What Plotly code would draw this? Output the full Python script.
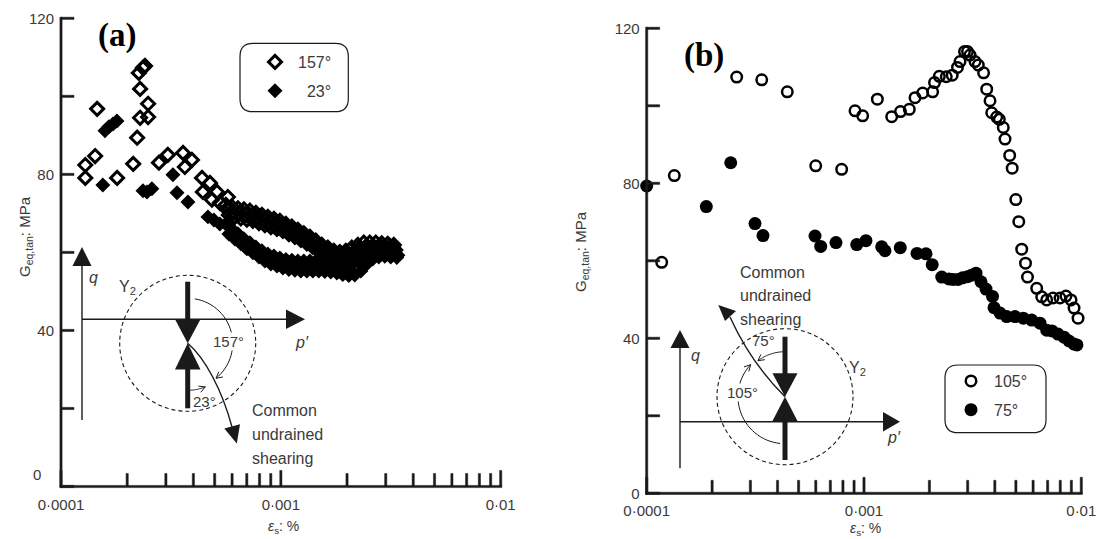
import math
import plotly.graph_objects as go

W, H = 1100, 539

# ---------------- data ----------------
# Panel (a): 157 deg (open diamonds) and 23 deg (filled diamonds)
a157_x = [1.29e-4, 1.29e-4, 1.43e-4, 1.46e-4, 1.80e-4, 2.13e-4, 2.22e-4, 2.29e-4,
          2.49e-4, 2.49e-4, 2.29e-4, 2.26e-4, 2.36e-4, 2.41e-4, 2.79e-4, 3.06e-4,
          3.59e-4, 3.94e-4, 3.66e-4, 4.38e-4, 4.76e-4, 4.42e-4, 5.12e-4, 4.86e-4,
          5.74e-4, 5.28e-4,
          # dense band, upper row
          5.62e-4, 5.99e-4, 6.38e-4, 6.79e-4, 7.23e-4, 7.70e-4, 8.20e-4, 8.73e-4,
          9.30e-4, 9.90e-4, 1.054e-3, 1.122e-3, 1.195e-3, 1.272e-3, 1.355e-3, 1.442e-3,
          1.536e-3, 1.636e-3, 1.742e-3, 1.854e-3, 1.974e-3, 2.102e-3, 2.239e-3, 2.384e-3,
          2.538e-3, 2.703e-3, 2.878e-3, 3.064e-3, 3.264e-3,
          # dense band, middle row
          5.71e-4, 6.08e-4, 6.48e-4, 6.90e-4, 7.34e-4, 7.82e-4, 8.33e-4, 8.87e-4,
          9.45e-4, 1.006e-3, 1.071e-3, 1.140e-3, 1.214e-3, 1.292e-3, 1.376e-3, 1.465e-3,
          1.560e-3, 1.662e-3, 1.770e-3, 1.883e-3, 2.005e-3, 2.135e-3, 2.274e-3, 2.422e-3,
          2.578e-3, 2.746e-3, 2.923e-3, 3.112e-3, 3.316e-3,
          # dense band, lower row
          5.80e-4, 6.18e-4, 6.58e-4, 7.01e-4, 7.46e-4, 7.95e-4, 8.46e-4, 9.01e-4,
          9.60e-4, 1.022e-3, 1.088e-3, 1.158e-3, 1.233e-3, 1.313e-3, 1.398e-3, 1.488e-3,
          1.585e-3, 1.688e-3, 1.798e-3, 1.913e-3, 2.037e-3, 2.169e-3, 2.310e-3, 2.460e-3,
          2.619e-3, 2.789e-3, 2.970e-3, 3.162e-3, 3.368e-3]
a157_y = [82.4, 79.1, 84.7, 96.8, 79.1, 82.7, 89.4, 94.5,
          94.7, 98.1, 101.9, 106.0, 107.3, 107.8, 83.0, 85.0,
          85.5, 83.7, 81.9, 79.1, 77.8, 75.5, 75.5, 73.5,
          74.2, 72.7,
          72.2, 71.7, 71.3, 71.0, 70.7, 70.1, 69.6, 69.1,
          68.6, 68.1, 67.3, 66.6, 65.8, 64.9, 64.0, 63.0,
          61.9, 61.2, 60.4, 60.1, 60.4, 61.2, 61.9, 62.5,
          62.5, 62.5, 62.3, 62.2, 61.9,
          70.9, 70.4, 70.0, 69.7, 69.4, 68.8, 68.3, 67.8,
          67.3, 66.8, 66.0, 65.3, 64.5, 63.6, 62.7, 61.7,
          60.6, 59.9, 59.1, 58.8, 59.1, 59.9, 60.6, 61.2,
          61.2, 61.2, 61.0, 60.9, 60.6,
          69.6, 69.1, 68.7, 68.4, 68.1, 67.5, 67.0, 66.5,
          66.0, 65.5, 64.7, 64.0, 63.2, 62.3, 61.4, 60.4,
          59.3, 58.6, 57.8, 57.5, 57.8, 58.6, 59.3, 59.9,
          59.9, 59.9, 59.7, 59.6, 59.3]

a23_x = [1.55e-4, 1.585e-4, 1.652e-4, 1.724e-4, 1.797e-4, 2.36e-4, 2.46e-4, 2.59e-4,
         3.23e-4, 3.37e-4, 3.78e-4, 4.66e-4, 4.96e-4, 5.28e-4,
         # dense band, upper row
         5.62e-4, 5.99e-4, 6.38e-4, 6.79e-4, 7.23e-4, 7.70e-4, 8.20e-4, 8.73e-4,
         9.30e-4, 9.90e-4, 1.054e-3, 1.122e-3, 1.195e-3, 1.272e-3, 1.355e-3, 1.442e-3,
         1.536e-3, 1.636e-3, 1.742e-3, 1.854e-3, 1.974e-3, 2.102e-3, 2.239e-3, 2.384e-3,
         2.538e-3, 2.703e-3, 2.878e-3, 3.064e-3, 3.264e-3,
         # dense band, lower row
         5.80e-4, 6.18e-4, 6.58e-4, 7.01e-4, 7.46e-4, 7.95e-4, 8.46e-4, 9.01e-4,
         9.60e-4, 1.022e-3, 1.088e-3, 1.158e-3, 1.233e-3, 1.313e-3, 1.398e-3, 1.488e-3,
         1.585e-3, 1.688e-3, 1.798e-3, 1.913e-3, 2.037e-3, 2.169e-3, 2.310e-3, 2.460e-3,
         2.619e-3, 2.789e-3, 2.970e-3, 3.162e-3, 3.368e-3]
a23_y = [77.3, 91.2, 92.2, 92.9, 93.7, 75.8, 75.5, 76.3,
         79.9, 75.3, 72.9, 69.1, 68.3, 67.3,
         67.3, 66.0, 64.8, 63.5, 62.5, 61.4, 60.4, 59.6,
         59.1, 58.6, 58.2, 58.0, 57.8, 57.8, 57.8, 57.8,
         57.7, 57.6, 57.3, 56.9, 56.7, 56.8, 57.8, 59.6,
         60.9, 61.4, 61.6, 61.4, 61.3,
         64.7, 63.4, 62.2, 60.9, 59.9, 58.8, 57.8, 57.0,
         56.5, 56.0, 55.6, 55.4, 55.2, 55.2, 55.2, 55.2,
         55.1, 55.0, 54.7, 54.3, 54.1, 54.2, 55.2, 57.0,
         58.3, 58.8, 59.0, 58.8, 58.7]

# Panel (b): 105 deg (open circles) and 75 deg (filled circles)
b105_x = [1.172e-4, 1.340e-4, 2.595e-4, 3.383e-4, 4.436e-4, 5.995e-4, 7.891e-4, 9.09e-4,
          9.86e-4, 1.152e-3, 1.341e-3, 1.472e-3, 1.616e-3, 1.717e-3, 1.862e-3, 2.070e-3,
          2.111e-3, 2.221e-3, 2.391e-3, 2.546e-3, 2.692e-3, 2.766e-3, 2.901e-3, 2.995e-3,
          3.076e-3, 3.243e-3, 3.357e-3, 3.551e-3, 3.670e-3, 3.801e-3, 3.870e-3, 4.080e-3,
          4.195e-3, 4.375e-3, 4.456e-3, 4.682e-3, 4.808e-3, 4.995e-3, 5.157e-3, 5.318e-3,
          5.536e-3, 5.655e-3, 6.234e-3, 6.573e-3, 6.931e-3, 7.41e-3, 7.98e-3, 8.50e-3,
          8.97e-3, 9.26e-3, 9.66e-3]
b105_y = [59.6, 82.0, 107.4, 106.7, 103.6, 84.5, 83.6, 98.7,
          97.4, 101.7, 97.2, 98.5, 99.1, 102.1, 103.3, 103.6,
          106.0, 107.6, 107.5, 107.9, 109.9, 111.4, 114.0, 114.0,
          113.1, 111.4, 110.5, 108.5, 104.3, 101.3, 98.2, 97.1,
          96.5, 94.4, 91.4, 87.2, 83.9, 75.8, 70.1, 63.0,
          59.4, 55.8, 52.9, 50.7, 49.9, 50.4, 50.4, 50.9,
          49.9, 47.8, 45.2]

b75_x = [1.0e-4, 1.881e-4, 2.436e-4, 3.151e-4, 3.429e-4, 5.951e-4, 6.32e-4, 7.43e-4,
         9.26e-4, 1.021e-3, 1.206e-3, 1.249e-3, 1.469e-3, 1.754e-3, 1.929e-3, 2.060e-3,
         2.279e-3, 2.461e-3, 2.568e-3, 2.708e-3, 2.841e-3, 2.995e-3, 3.124e-3, 3.277e-3,
         3.455e-3, 3.643e-3, 3.903e-3, 3.966e-3, 4.226e-3, 4.537e-3, 4.953e-3, 5.409e-3,
         5.910e-3, 6.457e-3, 6.931e-3, 7.33e-3, 7.81e-3, 8.33e-3, 8.78e-3, 9.26e-3,
         9.55e-3]
b75_y = [79.3, 74.0, 85.3, 69.6, 66.5, 66.4, 63.7, 64.7,
         64.2, 65.2, 63.6, 62.6, 63.4, 61.9, 61.8, 59.0,
         55.8, 55.3, 55.2, 55.2, 55.6, 55.9, 56.3, 56.8,
         54.6, 52.7, 50.8, 47.9, 46.5, 45.6, 45.6, 45.2,
         44.7, 43.9, 42.1, 41.9, 41.1, 40.3, 39.3, 38.5,
         38.3]

x_major = [1e-4, 1e-3, 1e-2]
x_major_text = ["0·0001", "0·001", "0·01"]
y_major = [0, 40, 80, 120]
y_minor = [20, 60, 100]
x_minor = [k * 10.0 ** e for e in (-4, -3) for k in range(2, 10)]
X_RANGE = [-4, -2]      # log10 range of the x axes
Y_RANGE = [0, 120]

# ---------------- styling helpers ----------------
FONT = "Liberation Sans, Arial, sans-serif"
SERIF = "Liberation Serif, Times New Roman, serif"
TXT = "#3a3a3a"
LN = "#1a1a1a"

# plot-area domains (paper fractions)
XA_DOM = [61 / W, 500.7 / W]
YA_DOM = [1 - 486.5 / H, 1 - 18.3 / H]
XB_DOM = [646.7 / W, 1081.3 / W]
YB_DOM = [1 - 493.3 / H, 1 - 28.3 / H]


def X(px):
    return px / W


def Y(py):
    return 1 - py / H


def pth(points, close=False):
    s = "M " + " L ".join(f"{X(x):.5f},{Y(y):.5f}" for x, y in points)
    return s + (" Z" if close else "")


def arc_pts(cx, cy, r, t0, t1, n=30):
    pts = []
    for i in range(n + 1):
        t = math.radians(t0 + (t1 - t0) * i / n)
        pts.append((cx + r * math.sin(t), cy - r * math.cos(t)))
    return pts


shapes = []
annots = []


def line(p0, p1, w=1.3, color=LN, dash=None):
    shapes.append(dict(type="line", xref="paper", yref="paper",
                       x0=X(p0[0]), y0=Y(p0[1]), x1=X(p1[0]), y1=Y(p1[1]),
                       line=dict(color=color, width=w, dash=dash)))


def poly(points, fill=LN):
    shapes.append(dict(type="path", xref="paper", yref="paper",
                       path=pth(points, True), fillcolor=fill,
                       line=dict(width=0)))


def stroke(path, w=1.2, color=LN):
    shapes.append(dict(type="path", xref="paper", yref="paper", path=path,
                       line=dict(color=color, width=w)))


def cubic(p0, p1, p2, p3):
    return (f"M {X(p0[0]):.5f},{Y(p0[1]):.5f} C {X(p1[0]):.5f},{Y(p1[1]):.5f} "
            f"{X(p2[0]):.5f},{Y(p2[1]):.5f} {X(p3[0]):.5f},{Y(p3[1]):.5f}")


def vhead(tip, d, L=7, ang=28):
    bx0, by0 = -d[0], -d[1]
    pts = []
    for s in (1, -1):
        a = math.radians(ang * s)
        bx = bx0 * math.cos(a) - by0 * math.sin(a)
        by = bx0 * math.sin(a) + by0 * math.cos(a)
        pts.append((tip[0] + L * bx, tip[1] + L * by))
    stroke(pth([pts[0], tip, pts[1]]), w=1.0)


def arc_arrow(cx, cy, r, t0, t1):
    pts = arc_pts(cx, cy, r, t0, t1)
    stroke(pth(pts), w=1.0)
    t = math.radians(t1)
    sgn = 1 if t1 > t0 else -1
    vhead(pts[-1], (sgn * math.cos(t), sgn * math.sin(t)))


def circle(cx, cy, r):
    shapes.append(dict(type="circle", xref="paper", yref="paper",
                       x0=X(cx - r), x1=X(cx + r), y0=Y(cy + r), y1=Y(cy - r),
                       line=dict(color=LN, width=1.1, dash="4px,3px")))


def rrect(x0, y0, x1, y1, r):
    p = (f"M {X(x0 + r)},{Y(y0)} L {X(x1 - r)},{Y(y0)} Q {X(x1)},{Y(y0)} {X(x1)},{Y(y0 + r)} "
         f"L {X(x1)},{Y(y1 - r)} Q {X(x1)},{Y(y1)} {X(x1 - r)},{Y(y1)} "
         f"L {X(x0 + r)},{Y(y1)} Q {X(x0)},{Y(y1)} {X(x0)},{Y(y1 - r)} "
         f"L {X(x0)},{Y(y0 + r)} Q {X(x0)},{Y(y0)} {X(x0 + r)},{Y(y0)} Z")
    shapes.append(dict(type="path", xref="paper", yref="paper", path=p,
                       line=dict(color=LN, width=1.2)))


def ann(text, x, y, size=16, xanchor="center", yanchor="middle", color=TXT,
        family=FONT, angle=0, bg=None):
    d = dict(text=text, x=X(x), y=Y(y), xref="paper", yref="paper",
             xanchor=xanchor, yanchor=yanchor, showarrow=False, textangle=angle,
             font=dict(family=family, size=size, color=color))
    if bg:
        d["bgcolor"] = bg
        d["borderpad"] = 0
    annots.append(d)


AXW = 2.2     # px, axis line / tick thickness


def axis_frame(xdom, ydom):
    """Axis lines and inward ticks on the same scale as the subplot axes,
    each drawn as a thin filled rectangle."""
    def xp(v):  # log axis value -> paper fraction
        return xdom[0] + (math.log10(v) - X_RANGE[0]) / (X_RANGE[1] - X_RANGE[0]) * (xdom[1] - xdom[0])

    def yp(v):
        return ydom[0] + (v - Y_RANGE[0]) / (Y_RANGE[1] - Y_RANGE[0]) * (ydom[1] - ydom[0])

    hw, hh = AXW / 2 / W, AXW / 2 / H
    bars = []
    bars.append((xdom[0] - hw, ydom[0] - hh, xdom[1] + hw, ydom[0] + hh))   # x axis line
    bars.append((xdom[0] - hw, ydom[0] - hh, xdom[0] + hw, ydom[1] + hh))   # y axis line
    for v, ln in [(v, 16) for v in x_major] + [(v, 13) for v in x_minor]:
        bars.append((xp(v) - hw, ydom[0], xp(v) + hw, ydom[0] + ln / H))
    for v in y_major + y_minor:
        bars.append((xdom[0], yp(v) - hh, xdom[0] + 13 / W, yp(v) + hh))
    for a, b, c, e in bars:
        shapes.append(dict(type="rect", xref="paper", yref="paper",
                           x0=a, y0=b, x1=c, y1=e, layer="above",
                           fillcolor=LN, line=dict(color=LN, width=0.5)))


axis_frame(XA_DOM, YA_DOM)
axis_frame(XB_DOM, YB_DOM)

# ---------------- figure ----------------
fig = go.Figure()
fig.add_trace(go.Scatter(x=a157_x, y=a157_y, mode="markers", name="157°",
                         xaxis="x", yaxis="y", legend="legend", legendgroup="a1",
                         cliponaxis=False,
                         marker=dict(symbol="diamond-open", size=10, color="black",
                                     line=dict(width=3, color="black"))))
fig.add_trace(go.Scatter(x=a23_x, y=a23_y, mode="markers", name="\u200723°",
                         xaxis="x", yaxis="y", legend="legend", legendgroup="a2",
                         cliponaxis=False,
                         marker=dict(symbol="diamond", size=11.5, color="black")))
fig.add_trace(go.Scatter(x=b105_x, y=b105_y, mode="markers", name="105°",
                         xaxis="x2", yaxis="y2", legend="legend2", legendgroup="b1",
                         cliponaxis=False,
                         marker=dict(symbol="circle-open", size=10.5, color="black",
                                     line=dict(width=2.5, color="black"))))
fig.add_trace(go.Scatter(x=b75_x, y=b75_y, mode="markers", name="75°",
                         xaxis="x2", yaxis="y2", legend="legend2", legendgroup="b2",
                         cliponaxis=False,
                         marker=dict(symbol="circle", size=13, color="black")))

tickfont = dict(family=FONT, size=15, color=TXT)


def xax(domain, anchor):
    return dict(type="log", range=X_RANGE, domain=domain, anchor=anchor,
                automargin=False, showline=False, showgrid=False,
                zeroline=False, ticks="outside", ticklen=4,
                tickcolor="rgba(0,0,0,0)", tickmode="array", tickvals=x_major,
                ticktext=x_major_text, tickfont=tickfont)


def yax(domain, anchor, ticktext):
    return dict(range=Y_RANGE, domain=domain, anchor=anchor, showline=False,
                automargin=False, showgrid=False, zeroline=False,
                ticks="outside", ticklen=3, tickcolor="rgba(0,0,0,0)",
                tickmode="array", tickvals=y_major, ticktext=ticktext,
                tickfont=tickfont)


# ---------------- inset (a) ----------------
cxa, cya = 187.7, 343.3
line((82, 420), (82, 262), w=1.4)
poly([(82, 247), (72.5, 266), (91.5, 266)])
line((82, 319.3), (288, 319.3), w=1.4)
poly([(305, 319.3), (286, 309.5), (286, 329)])
circle(cxa, cya, 68)
line((cxa, 281.7), (cxa, 322), w=5)
line((cxa, 366), (cxa, 408.3), w=5)
poly([(175, 319.3), (200.5, 319.3), (cxa, cya)])
poly([(175, 369.5), (200.5, 369.5), (cxa, cya)])
stroke(cubic((cxa, cya), (205, 358), (222, 390), (232, 427)), w=1.4)
poly([(224.3, 428.5), (240, 424.2), (236.8, 443.5)])
arc_arrow(cxa, cya, 45, 9, 141)
arc_arrow(cxa, cya, 47, 179, 158)
ann("157°", 228, 341.5, size=15, bg="white")
ann("23°", 204, 401, size=15)
ann("Y<sub>2</sub>", 127, 287, size=16)
ann("<i>q</i>", 93, 277, size=16)
ann("<i>p′</i>", 302, 342, size=16)
ann("Common", 250, 410, size=16, xanchor="left")
ann("undrained", 250, 434, size=16, xanchor="left")
ann("shearing", 250, 458, size=16, xanchor="left")

# ---------------- inset (b) ----------------
cxb, cyb = 785, 396.7
line((680, 468.3), (680, 346), w=1.4)
poly([(680, 330), (670.5, 348), (689.5, 348)])
line((680, 421.7), (885, 421.7), w=1.4)
poly([(900, 421.7), (883, 412), (883, 431.5)])
circle(cxb, cyb, 68)
line((cxb, 336.7), (cxb, 375), w=5)
line((cxb, 420), (cxb, 460), w=5)
poly([(772.5, 373.3), (797.5, 373.3), (cxb, cyb)])
poly([(772.5, 421), (797.5, 421), (cxb, cyb)])
stroke(cubic((cxb, cyb), (765, 377), (745, 350), (730, 317)), w=1.4)
poly([(718.3, 305), (736, 311), (725, 321)])
arc_arrow(cxb, cyb, 45, 358, 323)
arc_arrow(cxb, cyb, 47, 186, 313)
ann("75°", 763, 340, size=15)
ann("105°", 742.5, 392, size=15, bg="white")
ann("Y<sub>2</sub>", 857, 368, size=16)
ann("<i>q</i>", 695, 355, size=16)
ann("<i>p′</i>", 894, 437, size=16)
ann("Common", 738, 272, size=16, xanchor="left")
ann("undrained", 738, 295, size=16, xanchor="left")
ann("shearing", 738, 319, size=16, xanchor="left")

# ---------------- legend boxes, titles, panel labels ----------------
rrect(240, 43.3, 348.3, 111.7, 13)
rrect(945, 365, 1046, 432.7, 13)

ann("G<sub>eq,tan</sub>: MPa", 25, 237, size=15, angle=-90)
ann("G<sub>eq,tan</sub>: MPa", 582, 252, size=15, angle=-90)
ann("<i>ε</i><sub>s</sub>: %", 283, 527, size=14)
ann("<i>ε</i><sub>s</sub>: %", 865, 529, size=14)
ann("0", 37, 474, size=15)
ann("<b>(a)</b>", 117, 35, size=33, family=SERIF, color="black")
ann("<b>(b)</b>", 704, 55, size=33, family=SERIF, color="black")

legfont = dict(family=FONT, size=16, color=TXT)
fig.update_layout(
    template="none",
    width=W, height=H, autosize=False,
    margin=dict(l=0, r=0, t=0, b=0, pad=0, autoexpand=False),
    paper_bgcolor="white", plot_bgcolor="white",
    xaxis=xax(XA_DOM, "y"),
    yaxis=yax(YA_DOM, "x", ["", "40", "80", "120"]),
    xaxis2=xax(XB_DOM, "y2"),
    yaxis2=yax(YB_DOM, "x2", ["0", "40", "80", "120"]),
    legend=dict(x=X(252), y=Y(45), xanchor="left", yanchor="top",
                bgcolor="rgba(0,0,0,0)", borderwidth=0, font=legfont,
                tracegroupgap=5, traceorder="grouped", itemwidth=36),
    legend2=dict(x=X(948), y=Y(364), xanchor="left", yanchor="top",
                 bgcolor="rgba(0,0,0,0)", borderwidth=0, font=legfont,
                 tracegroupgap=5, traceorder="grouped", itemwidth=36),
    shapes=shapes,
    annotations=annots,
)

fig.write_html("out.html")
